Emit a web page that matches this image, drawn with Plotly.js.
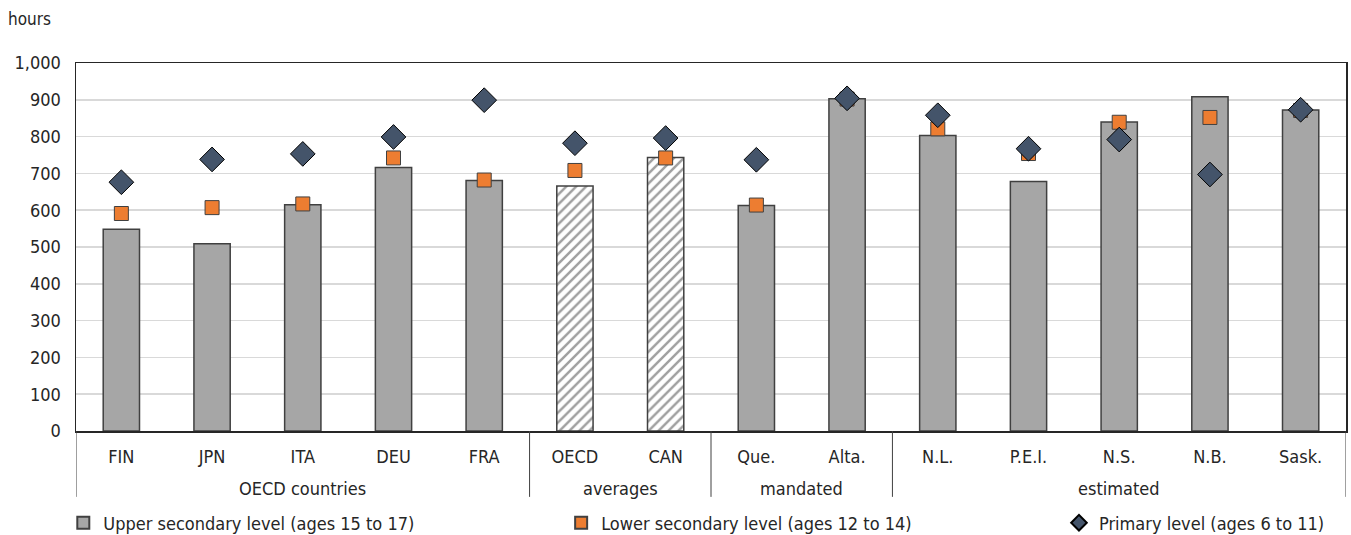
<!DOCTYPE html>
<html>
<head>
<meta charset="utf-8">
<script src="https://cdn.plot.ly/plotly-3.0.1.min.js"></script>
<style>
html,body{margin:0;padding:0;background:#fff;}
#chart{width:1351px;height:535px;}
</style>
</head>
<body>
<div id="chart"></div>
<script>
const categories = ["FIN","JPN","ITA","DEU","FRA","OECD","CAN","Que.","Alta.","N.L.","P.E.I.","N.S.","N.B.","Sask."];
const groups = [
  {label: "OECD countries", start: 0, end: 4},
  {label: "averages", start: 5, end: 6},
  {label: "mandated", start: 7, end: 8},
  {label: "estimated", start: 9, end: 13}
];
const hatched = ["OECD","CAN"];
const upperSecondary = [548, 509, 615, 716, 681, 666, 743, 613, 903, 803, 678, 840, 908, 872];
const lowerSecondary = [591, 607, 617, 742, 682, 708, 742, 614, 902, 821, 754, 839, 852, 871];
const primary = [676, 738, 753, 799, 899, 782, 796, 737, 904, 858, 767, 792, 697, 873];
const seriesNames = ["Upper secondary level (ages 15 to 17)", "Lower secondary level (ages 12 to 14)", "Primary level (ages 6 to 11)"];

const FONT = "'DejaVu Sans Condensed', 'Liberation Sans Narrow', Roboto, sans-serif";
const FS = 18;
const isH = categories.map(c => hatched.includes(c));
const solidCats = categories.filter((c, i) => !isH[i]);
const solidVals = upperSecondary.filter((v, i) => !isH[i]);
const hatchCats = categories.filter((c, i) => isH[i]);
const hatchVals = upperSecondary.filter((v, i) => isH[i]);

const traces = [
  {
    type: "bar", x: solidCats, y: solidVals, name: seriesNames[0], width: 0.4, legend: "legend",
    marker: {color: "#a6a6a6", line: {color: "#404040", width: 1.5}},
    offsetgroup: "a"
  },
  {
    type: "bar", x: hatchCats, y: hatchVals, name: seriesNames[0], width: 0.4, showlegend: false,
    marker: {color: "#ffffff", line: {color: "#404040", width: 1.5},
      pattern: {shape: "/", fgcolor: "#a0a0a0", bgcolor: "#ffffff", size: 7, solidity: 0.35, fillmode: "replace"}},
    offsetgroup: "a"
  },
  {
    type: "scatter", mode: "markers", x: categories, y: lowerSecondary, name: seriesNames[1], legend: "legend2",
    marker: {symbol: "square", size: 14, color: "#ed7d31", line: {color: "#404040", width: 1}}
  },
  {
    type: "scatter", mode: "markers", x: categories, y: primary, name: seriesNames[2], legend: "legend3",
    marker: {symbol: "diamond", size: 19, color: "#44546a", line: {color: "#000000", width: 1}}
  }
];

const shapes = [];
const annotations = [];
const bounds = [-0.5];
groups.forEach(g => bounds.push(g.end + 0.5));
bounds.forEach(b => {
  shapes.push({type: "line", xref: "x", yref: "paper", x0: b, x1: b, y0: 0, y1: -0.179,
    line: {color: "#404040", width: 1}});
});
groups.forEach(g => {
  annotations.push({xref: "x", yref: "paper", x: (g.start + g.end) / 2, y: -0.155,
    text: g.label, showarrow: false, yanchor: "middle",
    font: {family: FONT, size: FS, color: "#262626"}});
});
annotations.push({xref: "paper", yref: "paper", x: -0.055, y: 1.12, xanchor: "left", yanchor: "middle",
  text: "hours", showarrow: false, font: {family: FONT, size: 17, color: "#262626"}});

const legFont = {family: FONT, size: FS, color: "#262626"};
const legBase = {orientation: "h", y: -0.25, yanchor: "middle", xanchor: "left", font: legFont,
  bgcolor: "rgba(0,0,0,0)", itemwidth: 30, itemsizing: "constant"};

const layout = {
  width: 1351, height: 535,
  margin: {l: 76, r: 5, t: 63, b: 104, autoexpand: false},
  paper_bgcolor: "#ffffff", plot_bgcolor: "#ffffff",
  font: {family: FONT, size: FS, color: "#262626"},
  showlegend: true,
  barmode: "overlay",
  legend: Object.assign({}, legBase, {x: -0.01}),
  legend2: Object.assign({}, legBase, {x: 0.382}),
  legend3: Object.assign({}, legBase, {x: 0.774}),
  xaxis: {
    type: "category", categoryorder: "array", categoryarray: categories,
    range: [-0.5, 13.5], showline: true, linecolor: "#262626", linewidth: 1.5, mirror: true,
    ticks: "", showgrid: false, tickfont: {family: FONT, size: FS, color: "#262626"},
    ticklabelstandoff: 9, fixedrange: true, automargin: false
  },
  yaxis: {
    range: [0, 1000], dtick: 100, tickformat: ",", showgrid: true, gridcolor: "#d9d9d9", gridwidth: 1.5,
    showline: true, linecolor: "#262626", linewidth: 1.5, mirror: true, ticks: "",
    tickfont: {family: FONT, size: FS, color: "#262626"}, zeroline: false, fixedrange: true,
    ticklabelstandoff: 10, automargin: false
  },
  shapes: shapes,
  annotations: annotations
};

Plotly.newPlot("chart", traces, layout, {displayModeBar: false, staticPlot: true});
</script>
</body>
</html>
